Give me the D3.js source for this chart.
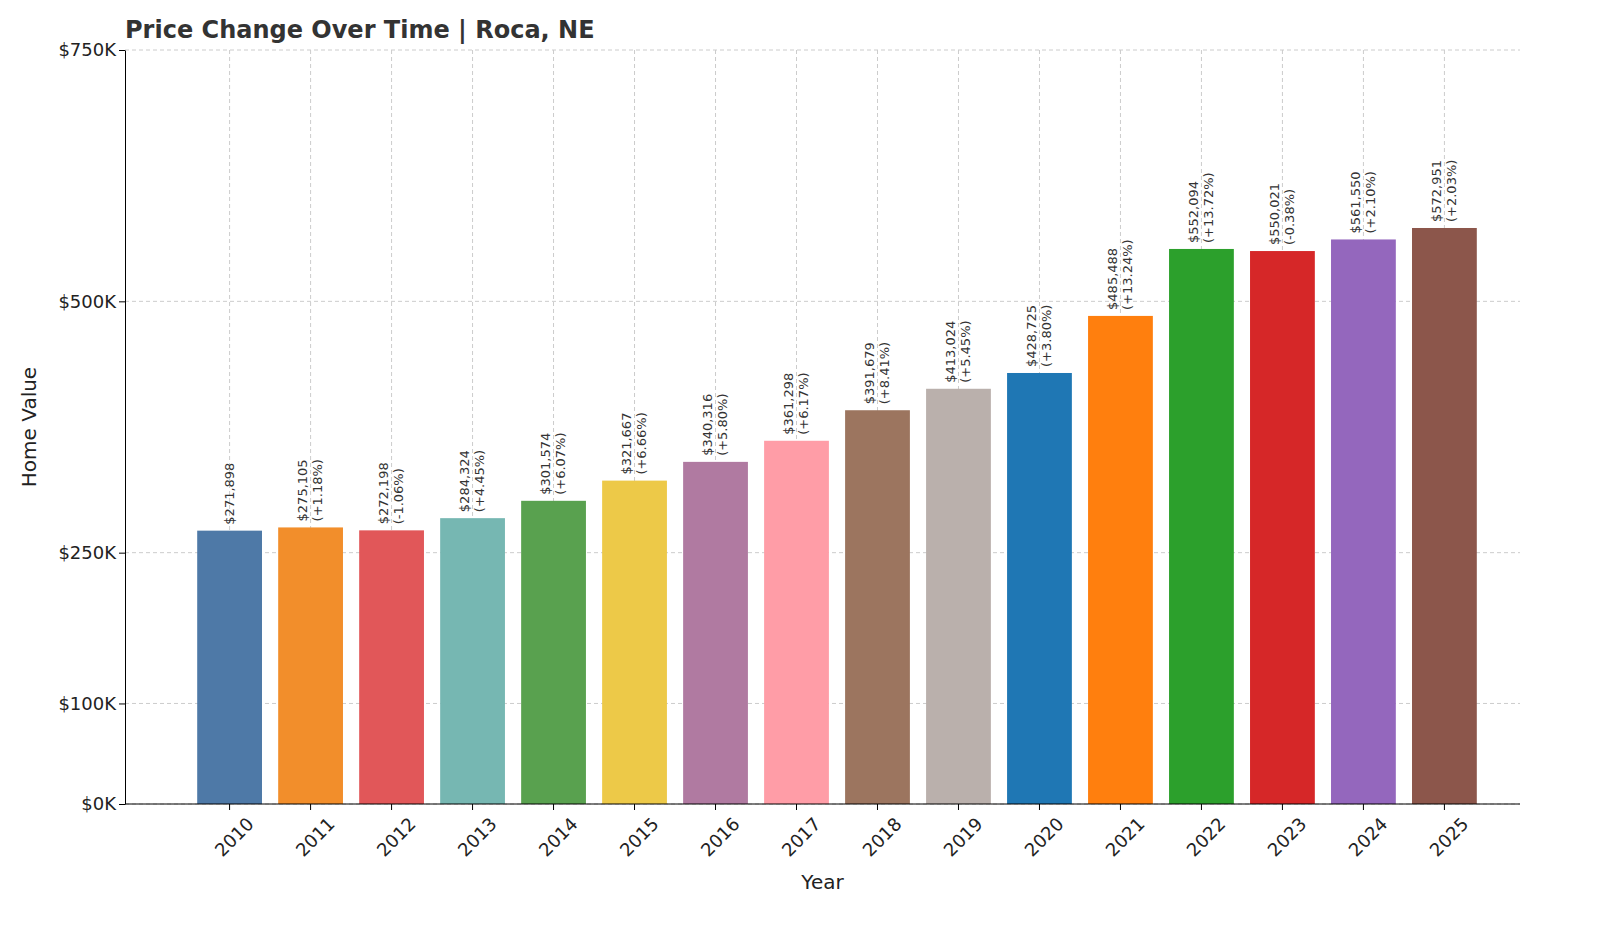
<!DOCTYPE html>
<html><head><meta charset="utf-8">
<script src="https://cdn.jsdelivr.net/npm/d3@7"></script>
<style>body{margin:0;background:#fff;font-family:"DejaVu Sans",sans-serif}</style>
</head><body><svg id="c" width="1600" height="933"></svg>
<script>
const years=["2010","2011","2012","2013","2014","2015","2016","2017","2018","2019","2020","2021","2022","2023","2024","2025"];
const values=[271898,275105,272198,284324,301574,321667,340316,361298,391679,413024,428725,485488,552094,550021,561550,572951];
const changes=[null,"+1.18%","-1.06%","+4.45%","+6.07%","+6.66%","+5.80%","+6.17%","+8.41%","+5.45%","+3.80%","+13.24%","+13.72%","-0.38%","+2.10%","+2.03%"];
const colors=["#4e79a7","#f28e2b","#e15759","#76b7b2","#59a14f","#edc948","#b07aa1","#ff9da7","#9c755f","#bab0ac","#1f77b4","#ff7f0e","#2ca02c","#d62728","#9467bd","#8c564b"];
const yTicks=[0,100000,250000,500000,750000];
const yTickLabels=["$0K","$100K","$250K","$500K","$750K"];

const svg=d3.select("#c");
const L=125,R=1520,T=50,B=804;
const x=d3.scaleBand().domain(years).range([181,1493]).padding(0.2);
const y=d3.scaleLinear().domain([0,750000]).range([B,T]);

// grid
svg.append("g").selectAll("line").data(yTicks).join("line")
 .attr("x1",L).attr("x2",R).attr("y1",d=>y(d)).attr("y2",d=>y(d))
 .attr("stroke","#ccc").attr("stroke-dasharray","4,3");
svg.append("g").selectAll("line").data(years).join("line")
 .attr("x1",d=>x(d)+x.bandwidth()/2).attr("x2",d=>x(d)+x.bandwidth()/2).attr("y1",T).attr("y2",B)
 .attr("stroke","#ccc").attr("stroke-dasharray","4,3");

svg.append("g").selectAll("rect").data(years).join("rect")
 .attr("x",d=>x(d)).attr("width",x.bandwidth())
 .attr("y",(d,i)=>y(values[i])).attr("height",(d,i)=>B-y(values[i]))
 .attr("fill",(d,i)=>colors[i]);

// labels
const lab=svg.append("g").selectAll("text").data(years).join("text")
 .attr("transform",(d,i)=>`translate(${x(d)+x.bandwidth()/2},${y(values[i])-6}) rotate(-90)`)
 .attr("font-size",13).attr("fill","#333");
lab.each(function(d,i){
 const t=d3.select(this);
 if(changes[i]){
  t.append("tspan").attr("x",0).attr("dy","-0.25em").text("$"+d3.format(",")(values[i]));
  t.append("tspan").attr("x",0).attr("dy","1.15em").text("("+changes[i]+")");
 } else {
  t.append("tspan").attr("x",0).attr("dy","0.35em").text("$"+d3.format(",")(values[i]));
 }
});

// axes
const ya=svg.append("g").attr("transform",`translate(${L},0)`)
 .call(d3.axisLeft(y).tickValues(yTicks).tickFormat((d,i)=>yTickLabels[i]).tickSizeOuter(0));
ya.selectAll("text").attr("font-size",18).attr("fill","#222").attr("font-family","DejaVu Sans");
const xa=svg.append("g").attr("transform",`translate(0,${B})`)
 .call(d3.axisBottom(x).tickSizeOuter(0));
xa.select(".domain").attr("d",`M${L},0H${R}`);
xa.selectAll("text").attr("font-size",18).attr("fill","#222").attr("font-family","DejaVu Sans")
 .attr("text-anchor","end").attr("transform","translate(10,6) rotate(-45)").attr("dy","0.7em");

svg.append("text").attr("x",L).attr("y",38).attr("font-size",24).attr("font-weight","bold").attr("fill","#333").text("Price Change Over Time | Roca, NE");
svg.append("text").attr("x",(L+R)/2).attr("y",889).attr("text-anchor","middle").attr("font-size",20).attr("fill","#222").text("Year");
svg.append("text").attr("transform",`translate(36,${(T+B)/2}) rotate(-90)`).attr("text-anchor","middle").attr("font-size",20).attr("fill","#222").text("Home Value");
</script></body></html>
